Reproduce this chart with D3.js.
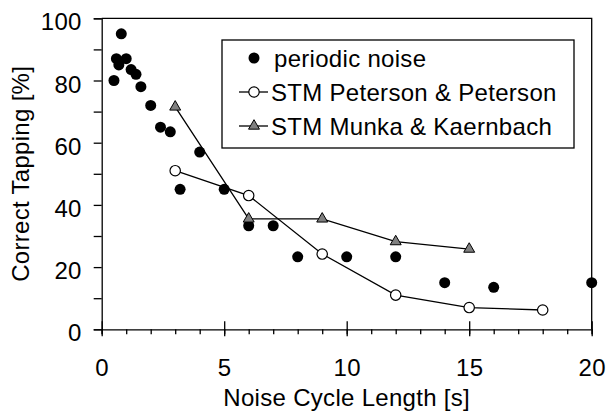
<!DOCTYPE html>
<html>
<head>
<meta charset="utf-8">
<script src="https://cdn.jsdelivr.net/npm/d3@7"></script>
<style>
    body { margin: 0; background: #fff; }
    text { font-family: "Liberation Sans", Arial, sans-serif; fill: #000; letter-spacing: 0.3px; }
</style>
</head>
<body>
<div id="chart"></div>
<script>
// values
var noiseX = [0.5, 0.6, 0.7, 0.8, 1.0, 1.2, 1.4, 1.6, 2, 2.4, 2.8, 3.2, 4, 5, 6, 7, 8, 10, 12, 14, 16, 20];
var noiseY = [80, 87, 85, 95, 87, 83.5, 82, 78, 72, 65, 63.5, 45, 57, 45, 33.3, 33.3, 23.3, 23.3, 23.3, 15, 13.5, 15];

var petersonX = [3, 6, 9, 12, 15, 18];
var petersonY = [51, 43, 24.2, 11, 7, 6.2];

var munkaX = [3, 6, 9, 12, 15];
var munkaY = [71.5, 35.5, 35.5, 28.2, 25.8];

var xTicks = [0, 5, 10, 15, 20];
var yTicks = [0, 20, 40, 60, 80, 100];

var legendLabels = ['periodic noise', 'STM Peterson & Peterson', 'STM Munka & Kaernbach'];

var zip = function(xs, ys) {
    return xs.map(function(x, i) { return { x: x, y: ys[i] }; });
};

function drawChart() {
    var width = 606, height = 415;
    var margin = { top: 18.3, right: 14.3, bottom: 85.7, left: 101.7 };
    var w = width - margin.left - margin.right;
    var h = height - margin.top - margin.bottom;
    var fontSize = 24;

    var svg = d3.select('#chart').append('svg')
        .attr('width', width)
        .attr('height', height);

    var g = svg.append('g')
        .attr('transform', 'translate(' + margin.left + ',' + margin.top + ')');

    var x = d3.scaleLinear().domain([0, 20]).range([0, w]);
    var y = d3.scaleLinear().domain([0, 100]).range([h, 0]);

    // frame: top and right edges
    g.append('path')
        .attr('d', 'M0,0H' + w + 'V' + h)
        .attr('fill', 'none')
        .attr('stroke', '#000')
        .attr('stroke-width', 1.3);

    // y axis, ticks every 10, labels every 20
    var yAxis = g.append('g')
        .call(d3.axisLeft(y).tickValues(d3.range(0, 101, 10)).tickSize(8).tickPadding(12)
            .tickFormat(function(d) { return yTicks.indexOf(d) >= 0 ? d : ''; }));
    yAxis.select('.domain').attr('stroke-width', 1.3);
    yAxis.selectAll('line').attr('stroke-width', 1.3);
    yAxis.selectAll('text')
        .attr('font-size', fontSize)
        .attr('dy', '0.36em')
        .attr('y', 3)
        .style('font-family', '"Liberation Sans", Arial, sans-serif');

    // x axis minor ticks
    var xMinor = g.append('g')
        .attr('transform', 'translate(0,' + h + ')')
        .call(d3.axisBottom(x).tickValues(d3.range(0, 21, 1)).tickSize(5).tickFormat(''));
    xMinor.select('.domain').attr('stroke-width', 1.3);
    xMinor.selectAll('line').attr('stroke-width', 1.3);

    // x axis major ticks (cross the axis)
    var xAxis = g.append('g')
        .attr('transform', 'translate(0,' + h + ')')
        .call(d3.axisBottom(x).tickValues(xTicks).tickSize(7));
    xAxis.select('.domain').remove();
    xAxis.selectAll('.tick line').attr('y1', -8).attr('stroke-width', 1.3);
    xAxis.selectAll('text')
        .attr('font-size', fontSize)
        .attr('y', 47)
        .attr('dy', 0)
        .style('font-family', '"Liberation Sans", Arial, sans-serif');

    // axis titles
    svg.append('text')
        .attr('x', margin.left + w / 2)
        .attr('y', 406)
        .attr('text-anchor', 'middle')
        .attr('font-size', fontSize)
        .text('Noise Cycle Length [s]');

    svg.append('text')
        .attr('transform', 'translate(29,' + (margin.top + h / 2) + ') rotate(-90)')
        .attr('text-anchor', 'middle')
        .attr('font-size', fontSize)
        .text('Correct Tapping [%]');

    var line = d3.line()
        .x(function(d) { return x(d.x); })
        .y(function(d) { return y(d.y); });

    var triangle = d3.symbol().type(d3.symbolTriangle).size(52);

    // Peterson & Peterson
    var peterson = zip(petersonX, petersonY);
    g.append('path').datum(peterson)
        .attr('d', line)
        .attr('fill', 'none')
        .attr('stroke', '#000')
        .attr('stroke-width', 1.3);

    // Munka & Kaernbach
    var munka = zip(munkaX, munkaY);
    g.append('path').datum(munka)
        .attr('d', line)
        .attr('fill', 'none')
        .attr('stroke', '#000')
        .attr('stroke-width', 1.3);

    g.selectAll('circle.noise')
        .data(zip(noiseX, noiseY))
        .enter().append('circle')
        .attr('class', 'noise')
        .attr('cx', function(d) { return x(d.x); })
        .attr('cy', function(d) { return y(d.y); })
        .attr('r', 5.5)
        .attr('fill', '#000');

    g.selectAll('circle.pp')
        .data(peterson)
        .enter().append('circle')
        .attr('class', 'pp')
        .attr('cx', function(d) { return x(d.x); })
        .attr('cy', function(d) { return y(d.y); })
        .attr('r', 5.2)
        .attr('fill', '#fff')
        .attr('stroke', '#000')
        .attr('stroke-width', 1.2);

    g.selectAll('path.mk')
        .data(munka)
        .enter().append('path')
        .attr('class', 'mk')
        .attr('d', triangle)
        .attr('transform', function(d) { return 'translate(' + x(d.x) + ',' + y(d.y) + ')'; })
        .attr('fill', '#808080')
        .attr('stroke', '#000')
        .attr('stroke-width', 1);

    // legend
    var lg = svg.append('g');
    lg.append('rect')
        .attr('x', 222).attr('y', 40)
        .attr('width', 352).attr('height', 108)
        .attr('fill', '#fff')
        .attr('stroke', '#000')
        .attr('stroke-width', 1.3);

    var rowY = [58, 92, 126];
    var textX = [274, 271, 271];

    lg.append('circle').attr('cx', 254).attr('cy', rowY[0]).attr('r', 5.5).attr('fill', '#000');

    lg.append('line').attr('x1', 239).attr('x2', 268).attr('y1', rowY[1]).attr('y2', rowY[1])
        .attr('stroke', '#000').attr('stroke-width', 1.3);
    lg.append('circle').attr('cx', 254).attr('cy', rowY[1]).attr('r', 5.2)
        .attr('fill', '#fff').attr('stroke', '#000').attr('stroke-width', 1.2);

    lg.append('line').attr('x1', 239).attr('x2', 268).attr('y1', rowY[2]).attr('y2', rowY[2])
        .attr('stroke', '#000').attr('stroke-width', 1.3);
    lg.append('path').attr('d', triangle)
        .attr('transform', 'translate(254,' + rowY[2] + ')')
        .attr('fill', '#808080').attr('stroke', '#000').attr('stroke-width', 1);

    lg.selectAll('text.lab')
        .data(legendLabels)
        .enter().append('text')
        .attr('class', 'lab')
        .attr('x', function(d, i) { return textX[i]; })
        .attr('y', function(d, i) { return rowY[i] + 8.5; })
        .attr('font-size', fontSize)
        .text(function(d) { return d; });
}

document.addEventListener('DOMContentLoaded', drawChart);
</script>
</body>
</html>
